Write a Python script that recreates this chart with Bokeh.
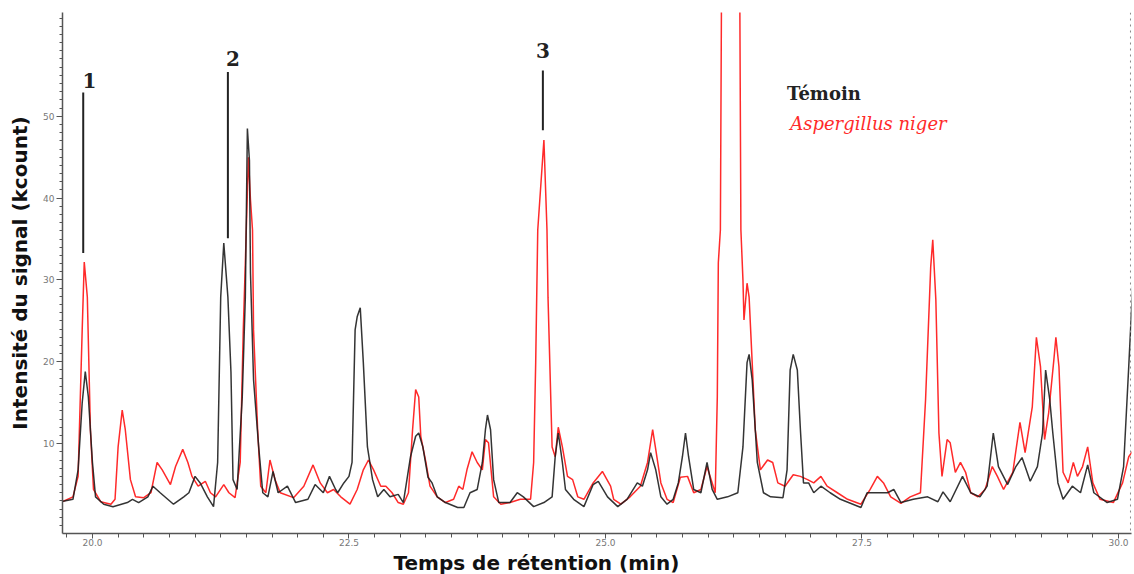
from bokeh.plotting import figure
from bokeh.models import Range1d, FixedTicker, Label, Span, PrintfTickFormatter, Title
from bokeh.embed import file_html
from bokeh.resources import INLINE

# Témoin (black) - retention time (min) and signal (kcount)
temoin_t = [19.69, 19.81, 19.86, 19.90, 19.93, 19.96, 20.00, 20.03, 20.11, 20.20, 20.34, 20.39,
            20.45, 20.54, 20.59, 20.66, 20.79, 20.89, 20.94, 21.00, 21.05, 21.12, 21.18, 21.22,
            21.25, 21.28, 21.32, 21.35, 21.37, 21.41, 21.46, 21.49, 21.51, 21.53, 21.54, 21.57,
            21.62, 21.66, 21.71, 21.76, 21.81, 21.90, 21.98, 22.10, 22.17, 22.25, 22.31, 22.37,
            22.39, 22.45, 22.50, 22.53, 22.56, 22.58, 22.61, 22.64, 22.68, 22.73, 22.78, 22.84,
            22.90, 22.98, 23.03, 23.10, 23.15, 23.18, 23.22, 23.27, 23.31, 23.36, 23.44, 23.56,
            23.62, 23.68, 23.75, 23.80, 23.83, 23.85, 23.88, 23.91, 23.96, 24.07, 24.14, 24.20,
            24.30, 24.40, 24.48, 24.51, 24.54, 24.58, 24.61, 24.69, 24.79, 24.88, 24.93, 25.02,
            25.12, 25.21, 25.31, 25.36, 25.41, 25.44, 25.49, 25.54, 25.60, 25.66, 25.71, 25.75,
            25.78, 25.81, 25.86, 25.93, 25.99, 26.04, 26.09, 26.19, 26.29, 26.34, 26.38, 26.40,
            26.43, 26.48, 26.54, 26.61, 26.73, 26.77, 26.80, 26.83, 26.87, 26.90, 26.93, 26.98,
            27.03, 27.10, 27.19, 27.29, 27.49, 27.55, 27.65, 27.75, 27.81, 27.88, 28.00, 28.14,
            28.24, 28.29, 28.36, 28.48, 28.56, 28.65, 28.72, 28.78, 28.83, 28.92, 29.00, 29.06,
            29.14, 29.21, 29.26, 29.29, 29.33, 29.36, 29.41, 29.46, 29.55, 29.63, 29.70, 29.76,
            29.89, 29.99, 30.05, 30.10, 30.14]
temoin_v = [2.9, 3.2, 6.8, 15.0, 18.8, 15.7, 7.7, 3.5, 2.6, 2.3, 2.8, 3.2,
            2.8, 3.5, 4.8, 4.0, 2.6, 3.5, 4.0, 6.0, 5.2, 3.5, 2.3, 7.7,
            27.9, 34.5, 27.9, 18.7, 5.6, 4.4, 15.7, 27.9, 48.5, 44.6, 30.9, 17.8,
            9.6, 4.0, 3.5, 6.6, 4.0, 4.8, 2.8, 3.2, 5.0, 4.0, 6.0, 4.4,
            4.0, 5.2, 6.0, 7.7, 23.9, 25.5, 26.6, 19.9, 9.6, 5.6, 3.5, 4.4,
            3.5, 3.8, 2.8, 8.4, 10.9, 11.3, 9.6, 5.9, 5.2, 3.5, 2.8, 2.2,
            2.2, 4.0, 4.4, 7.7, 11.7, 13.5, 11.7, 5.6, 2.8, 2.8, 4.0, 3.5,
            2.3, 2.8, 3.5, 8.4, 11.3, 7.7, 4.4, 3.2, 2.3, 5.0, 5.4, 3.5,
            2.3, 3.2, 5.2, 4.8, 6.8, 8.9, 6.8, 3.5, 2.6, 3.2, 5.2, 8.4,
            11.3, 8.4, 4.4, 4.0, 7.7, 4.4, 3.2, 3.5, 4.0, 9.6, 19.9, 20.9,
            17.8, 7.7, 4.0, 3.5, 3.4, 6.8, 19.0, 20.9, 19.0, 11.7, 5.2, 5.2,
            4.0, 4.8, 4.0, 3.2, 2.2, 4.0, 4.0, 4.0, 4.4, 2.8, 3.2, 3.5,
            2.9, 4.1, 2.9, 6.0, 4.0, 3.5, 4.8, 11.3, 7.2, 5.0, 7.2, 8.3,
            5.4, 7.2, 11.3, 19.0, 15.4, 11.3, 5.2, 3.2, 4.8, 4.0, 7.4, 4.0,
            2.8, 3.2, 7.2, 19.4, 29.6]

# Aspergillus niger (red)
niger_t = [19.69, 19.81, 19.86, 19.90, 19.92, 19.95, 19.98, 20.01, 20.08, 20.18, 20.22, 20.25,
           20.29, 20.32, 20.37, 20.42, 20.50, 20.57, 20.63, 20.68, 20.76, 20.81, 20.88, 20.93,
           20.97, 21.03, 21.10, 21.15, 21.20, 21.28, 21.33, 21.39, 21.44, 21.47, 21.49, 21.52,
           21.54, 21.56, 21.57, 21.61, 21.64, 21.69, 21.73, 21.78, 21.83, 21.96, 22.06, 22.15,
           22.22, 22.29, 22.35, 22.42, 22.51, 22.58, 22.64, 22.69, 22.74, 22.81, 22.86, 22.92,
           22.98, 23.03, 23.08, 23.12, 23.15, 23.18, 23.20, 23.25, 23.29, 23.36, 23.44, 23.52,
           23.57, 23.61, 23.65, 23.70, 23.75, 23.80, 23.83, 23.86, 23.91, 23.98, 24.07, 24.17,
           24.27, 24.30, 24.32, 24.34, 24.40, 24.43, 24.44, 24.48, 24.51, 24.54, 24.58, 24.63,
           24.68, 24.73, 24.79, 24.88, 24.97, 25.05, 25.08, 25.15, 25.24, 25.34, 25.41, 25.46,
           25.49, 25.54, 25.60, 25.66, 25.73, 25.80, 25.86, 25.93, 25.99, 26.04, 26.07, 26.09,
           26.10, 26.12, 26.13, 26.14, 26.30, 26.31, 26.32, 26.34, 26.35, 26.38, 26.40, 26.43,
           26.46, 26.51, 26.58, 26.63, 26.68, 26.75, 26.83, 26.90, 26.97, 27.03, 27.10, 27.16,
           27.26, 27.36, 27.49, 27.58, 27.65, 27.71, 27.78, 27.88, 27.97, 28.07, 28.12, 28.17,
           28.19, 28.22, 28.25, 28.28, 28.33, 28.36, 28.41, 28.46, 28.51, 28.56, 28.63, 28.70,
           28.77, 28.82, 28.88, 28.97, 29.04, 29.09, 29.16, 29.20, 29.24, 29.28, 29.32, 29.37,
           29.39, 29.42, 29.46, 29.51, 29.56, 29.60, 29.65, 29.70, 29.75, 29.82, 29.95, 30.04,
           30.10, 30.15]
niger_v = [2.8, 3.5, 6.0, 23.9, 32.2, 27.9, 11.7, 4.4, 2.9, 2.6, 3.2, 9.6,
           14.1, 11.7, 5.6, 3.5, 3.4, 4.0, 7.7, 6.8, 5.0, 7.2, 9.3, 7.7,
           6.0, 4.8, 5.4, 4.0, 3.5, 5.0, 4.0, 3.4, 7.7, 23.9, 32.1, 45.0,
           39.8, 36.1, 23.9, 11.7, 4.8, 4.0, 8.0, 5.6, 4.0, 3.4, 4.8, 7.4,
           5.2, 4.0, 4.4, 3.5, 2.6, 4.4, 6.8, 8.0, 6.8, 4.8, 4.8, 4.0,
           2.8, 2.6, 4.0, 11.7, 16.6, 15.7, 10.9, 7.7, 4.8, 3.5, 2.8, 3.2,
           4.8, 4.4, 6.8, 9.0, 7.7, 6.8, 10.5, 10.1, 3.5, 2.6, 2.8, 3.2,
           3.2, 7.7, 19.9, 36.1, 47.1, 36.1, 27.9, 9.6, 8.4, 12.0, 9.6, 6.0,
           5.6, 3.5, 3.2, 5.2, 6.6, 4.8, 3.2, 2.6, 3.5, 4.8, 7.7, 11.7,
           9.3, 5.2, 3.2, 2.8, 5.9, 6.0, 4.0, 4.4, 7.2, 5.2, 4.0, 15.7,
           32.1, 36.1, 62.6, 100.0, 100.0, 62.7, 36.1, 30.0, 25.1, 29.6, 27.9, 19.9,
           11.7, 6.8, 8.0, 7.7, 5.2, 4.8, 6.2, 6.0, 5.6, 5.2, 6.0, 4.8,
           4.0, 3.2, 2.6, 4.4, 6.0, 5.2, 3.5, 2.7, 3.5, 4.0, 15.4, 31.6,
           34.9, 27.6, 11.3, 6.0, 10.5, 10.1, 6.5, 7.7, 6.5, 4.0, 3.5, 4.4,
           7.2, 6.0, 4.4, 6.5, 12.6, 8.9, 14.5, 23.0, 19.4, 10.5, 13.8, 20.2,
           23.0, 19.4, 6.5, 5.2, 7.7, 6.0, 7.2, 9.6, 5.2, 3.2, 2.8, 5.2,
           8.4, 9.3]

x_ticks = [20.0, 22.5, 25.0, 27.5, 30.0]
y_ticks = [10, 20, 30, 40, 50]

# peak annotations
peak_labels = ["1", "2", "3"]
peak_label_t = [19.97, 21.37, 24.39]
peak_label_v = [54.4, 57.0, 58.0]
peak_line_t = [19.91, 21.32, 24.39]
peak_line_top = [52.9, 55.4, 55.6]
peak_line_bottom = [33.3, 35.1, 48.3]

series_names = ["Témoin", "Aspergillus niger"]
series_colors = ["#1e1e1e", "#ff2a2a"]

X0, X1 = 19.708, 30.127
Y0, Y1 = -0.98, 62.68

p = figure(width=1134, height=574, output_backend="svg", toolbar_location=None,
           x_range=Range1d(X0, X1), y_range=Range1d(Y0, Y1),
           min_border_left=62, min_border_right=3, min_border_top=12, min_border_bottom=40)
p.grid.visible = False
p.outline_line_color = None
p.border_fill_color = "white"
p.background_fill_color = "white"

p.line(niger_t, niger_v, line_color=series_colors[1], line_width=1.5)
p.line(temoin_t, temoin_v, line_color=series_colors[0], line_width=1.5, line_alpha=0.9)

p.segment(x0=peak_line_t, y0=peak_line_bottom, x1=peak_line_t, y1=peak_line_top,
          line_color="#222222", line_width=2)
for lab, t, v in zip(peak_labels, peak_label_t, peak_label_v):
    p.add_layout(Label(x=t, y=v, text=lab, text_align="center", text_baseline="middle",
                       text_font="DejaVu Serif", text_font_style="bold",
                       text_font_size="20px", text_color="#222222"))

# legend as text
p.add_layout(Label(x=26.77, y=52.8, text=series_names[0], text_align="left",
                   text_baseline="middle", text_font="DejaVu Serif", text_font_style="bold",
                   text_font_size="18px", text_color="#222222"))
p.add_layout(Label(x=26.80, y=49.1, text=series_names[1], text_align="left",
                   text_baseline="middle", text_font="DejaVu Serif", text_font_style="italic",
                   text_font_size="18px", text_color=series_colors[1]))

# x axis
xminor = [19.75 + 0.25 * i for i in range(42)]
p.xaxis.ticker = FixedTicker(ticks=x_ticks, minor_ticks=xminor)
p.xaxis.formatter = PrintfTickFormatter(format="%.1f")
p.xaxis.axis_line_color = "#555555"
p.xaxis.axis_line_width = 1.5
p.xaxis.major_tick_line_color = "#555555"
p.xaxis.minor_tick_line_color = "#555555"
p.xaxis.major_tick_in = 0
p.xaxis.major_tick_out = 5
p.xaxis.minor_tick_in = 0
p.xaxis.minor_tick_out = 4
p.xaxis.major_label_text_font = "DejaVu Sans"
p.xaxis.major_label_text_font_size = "9px"
p.xaxis.major_label_text_color = "#777777"
p.xaxis.major_label_standoff = 0

# y axis
yminor = list(range(0, 63))
p.yaxis.ticker = FixedTicker(ticks=y_ticks, minor_ticks=yminor)
p.yaxis.formatter = PrintfTickFormatter(format="%d")
p.yaxis.axis_line_color = "#555555"
p.yaxis.axis_line_width = 1.5
p.yaxis.major_tick_line_color = "#555555"
p.yaxis.minor_tick_line_color = "#555555"
p.yaxis.major_tick_in = 0
p.yaxis.major_tick_out = 6
p.yaxis.minor_tick_in = 0
p.yaxis.minor_tick_out = 3
p.yaxis.major_label_text_font = "DejaVu Sans"
p.yaxis.major_label_text_font_size = "9px"
p.yaxis.major_label_text_color = "#777777"
p.yaxis.major_label_standoff = 2
p.yaxis.axis_label = "Intensité du signal (kcount)"
p.yaxis.axis_label_text_font = "DejaVu Sans"
p.yaxis.axis_label_text_font_style = "bold"
p.yaxis.axis_label_text_font_size = "20px"
p.yaxis.axis_label_text_color = "#111111"
p.yaxis.axis_label_standoff = 8

# x axis title placed in the panel below the axis, shifted left like the original
p.add_layout(Title(text="Temps de rétention (min)", align="left", offset=331, standoff=0,
                   text_font="DejaVu Sans", text_font_style="bold",
                   text_font_size="20px", text_color="#111111"), "below")

# dotted right border
p.add_layout(Span(location=X1 - 0.01, dimension="height", line_color="#888888",
                  line_width=1, line_dash="dotted"))

open("out.html", "w").write(file_html(p, INLINE))
